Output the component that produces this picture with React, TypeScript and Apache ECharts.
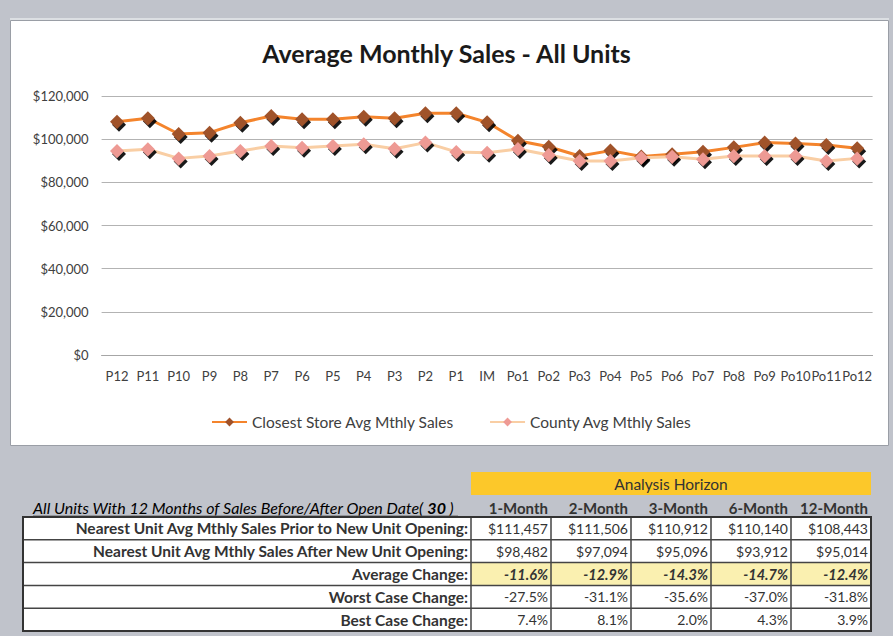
import React, { useEffect, useRef } from "react";
import * as echarts from "echarts";

const categories = ["P12","P11","P10","P9","P8","P7","P6","P5","P4","P3","P2","P1","IM","Po1","Po2","Po3","Po4","Po5","Po6","Po7","Po8","Po9","Po10","Po11","Po12"];
const closestStore = [108100,109700,102400,103000,107600,110700,109200,109200,110400,109700,112000,112000,107800,99300,96500,92200,94700,92000,93000,94200,96200,98400,98000,97300,95800];
const countyAvg = [94500,95300,91100,92200,94500,96800,96000,96800,97600,95600,98400,94100,93700,95400,92700,89900,89900,91400,91900,90700,92200,92200,92200,89900,91100];
const yTicks = [0, 20000, 40000, 60000, 80000, 100000, 120000];

const horizons = ["1-Month","2-Month","3-Month","6-Month","12-Month"];
const rowLabels = [
  "Nearest Unit Avg Mthly Sales Prior to New Unit Opening:",
  "Nearest Unit Avg Mthly Sales After New Unit Opening:",
  "Average Change:",
  "Worst Case Change:",
  "Best Case Change:",
];
const priorSales = [111457,111506,110912,110140,108443];
const afterSales = [98482,97094,95096,93912,95014];
const avgChange = [-11.6,-12.9,-14.3,-14.7,-12.4];
const worstChange = [-27.5,-31.1,-35.6,-37.0,-31.8];
const bestChange = [7.4,8.1,2.0,4.3,3.9];
const unitCount = 30;

const FONT = "Lato";
const money = (v: number) => "$" + v.toLocaleString("en-US");
const pct = (v: number) => v.toFixed(1) + "%";

function buildTable(): any[] {
  const els: any[] = [];
  const left = 23, labelRight = 471, colW = 80, top = 517, rowH = 22.8;
  const right = labelRight + colW * horizons.length;
  // header bar
  els.push({ type: "rect", shape: { x: labelRight, y: 472, width: right - labelRight, height: 23 }, style: { fill: "#fcc82a" } });
  els.push({ type: "text", x: (labelRight + right) / 2, y: 484, style: { text: "Analysis Horizon", fill: "#333", font: `15.5px ${FONT}`, align: "center", verticalAlign: "middle" } });
  horizons.forEach((h, i) => {
    els.push({ type: "text", x: labelRight + colW * (i + 1) - 3, y: 508, style: { text: h, fill: "#333", font: `bold 15px ${FONT}`, align: "right", verticalAlign: "middle" } });
  });
  // caption
  els.push({
    type: "text", x: 33, y: 507,
    style: {
      text: `{a|All Units With 12 Months of Sales Before/After Open Date(}{b| ${unitCount} }{a|)}`,
      align: "left", verticalAlign: "middle",
      rich: {
        a: { fontFamily: FONT, fontSize: 16, fontStyle: "italic", color: "#595959" },
        b: { fontFamily: FONT, fontSize: 16, fontStyle: "italic", fontWeight: "bold", color: "#4a4a4a" },
      },
    },
  });
  els.push({ type: "line", shape: { x1: 33, y1: 516, x2: 458, y2: 516 }, style: { stroke: "#666", lineWidth: 1 } });
  // backgrounds
  els.push({ type: "rect", shape: { x: left, y: top, width: right - left, height: rowH * 5 }, style: { fill: "#fff" } });
  els.push({ type: "rect", shape: { x: labelRight, y: top + rowH * 2, width: right - labelRight, height: rowH }, style: { fill: "#faf0b0" } });
  // lines
  for (let r = 1; r < 5; r++) {
    els.push({ type: "line", shape: { x1: left, y1: top + rowH * r, x2: right, y2: top + rowH * r }, style: { stroke: "#444", lineWidth: 1.5 } });
  }
  for (let c = 0; c < horizons.length; c++) {
    const x = labelRight + colW * c;
    els.push({ type: "line", shape: { x1: x, y1: top, x2: x, y2: top + rowH * 5 }, style: { stroke: "#444", lineWidth: 1.5 } });
  }
  els.push({ type: "rect", shape: { x: left, y: top, width: right - left, height: rowH * 5 }, style: { fill: "none", stroke: "#333", lineWidth: 2 } });
  // labels
  rowLabels.forEach((lab, r) => {
    els.push({ type: "text", x: labelRight - 3, y: top + rowH * r + rowH / 2, style: { text: lab, fill: "#333", font: `bold 15.5px ${FONT}`, align: "right", verticalAlign: "middle" } });
  });
  const rows: string[][] = [
    priorSales.map(money),
    afterSales.map(money),
    avgChange.map(pct),
    worstChange.map(pct),
    bestChange.map(pct),
  ];
  rows.forEach((vals, r) => {
    vals.forEach((v, c) => {
      els.push({
        type: "text", x: labelRight + colW * (c + 1) - 3, y: top + rowH * r + rowH / 2,
        style: { text: v, fill: "#333", font: r === 2 ? `italic bold 14.5px ${FONT}` : `14px ${FONT}`, align: "right", verticalAlign: "middle" },
      });
    });
  });
  return els;
}

export default function App() {
  const ref = useRef<HTMLDivElement>(null);
  useEffect(() => {
    if (!ref.current) return;
    const chart = echarts.init(ref.current, null, { renderer: "svg" });
    const graphicEls: any[] = [
      { type: "rect", z: -10, shape: { x: 10, y: 18, width: 879, height: 3 }, style: { fill: "#dcdfe3" } },
      { type: "rect", z: -10, shape: { x: 10.5, y: 20.5, width: 878, height: 425 }, style: { fill: "#ffffff", stroke: "#9a9ea6", lineWidth: 1 } },
      ...buildTable(),
    ];
    chart.setOption({
      animation: false,
      backgroundColor: "#c0c3cb",
      title: {
        text: "Average Monthly Sales - All Units",
        left: "center",
        top: 35,
        textStyle: { fontFamily: FONT, fontSize: 25, fontWeight: "bold", color: "#1a1a1a" },
      },
      legend: {
        left: 206,
        top: 409,
        itemWidth: 35,
        itemHeight: 11,
        itemGap: 35,
        textStyle: { fontFamily: FONT, fontSize: 15.5, color: "#404040" },
        data: [
          { name: "Closest Store Avg Mthly Sales", itemStyle: { shadowColor: "transparent", shadowBlur: 0, shadowOffsetX: 0, shadowOffsetY: 0 } },
          { name: "County Avg Mthly Sales", itemStyle: { shadowColor: "transparent", shadowBlur: 0, shadowOffsetX: 0, shadowOffsetY: 0 } },
        ],
      },
      grid: { left: 101.6, right: 20.4, top: 96, bottom: 281, containLabel: false },
      xAxis: {
        type: "category",
        data: categories,
        boundaryGap: true,
        axisLine: { show: true, lineStyle: { color: "#a6a6a6", width: 1 } },
        axisTick: { show: false },
        axisLabel: { fontFamily: FONT, fontSize: 13, color: "#404040", margin: 14, interval: 0 },
      },
      yAxis: {
        type: "value",
        min: yTicks[0],
        max: yTicks[yTicks.length - 1],
        interval: yTicks[1] - yTicks[0],
        axisLine: { show: false },
        axisTick: { show: false },
        splitLine: { lineStyle: { color: "#b3b3b3", width: 1 } },
        axisLabel: { fontFamily: FONT, fontSize: 13, color: "#404040", margin: 13, formatter: (v: number) => money(v) },
      },
      series: [
        {
          name: "Closest Store Avg Mthly Sales",
          type: "line",
          data: closestStore,
          symbol: "diamond",
          symbolSize: 14,
          lineStyle: { color: "#f4842c", width: 3 },
          itemStyle: { color: "#a0522a", shadowColor: "rgba(0,0,0,0.9)", shadowBlur: 1, shadowOffsetX: 2, shadowOffsetY: 3 },
          z: 3,
        },
        {
          name: "County Avg Mthly Sales",
          type: "line",
          data: countyAvg,
          symbol: "diamond",
          symbolSize: 14,
          lineStyle: { color: "#f9cea4", width: 3 },
          itemStyle: { color: "#ee9a94", shadowColor: "rgba(0,0,0,0.9)", shadowBlur: 1, shadowOffsetX: 2, shadowOffsetY: 3 },
          z: 4,
        },
      ],
      graphic: graphicEls,
    });
    return () => chart.dispose();
  }, []);
  return <div ref={ref} style={{ position: "fixed", left: 0, top: 0, width: 893, height: 636 }} />;
}
